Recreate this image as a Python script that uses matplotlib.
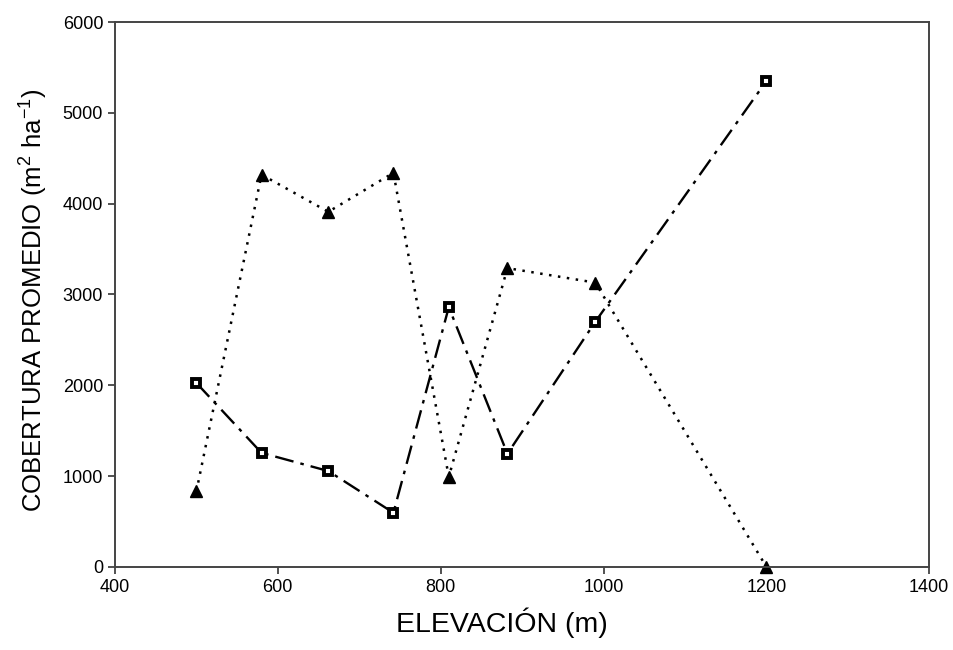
import matplotlib
matplotlib.use("Agg")
import matplotlib.pyplot as plt

# datos
elevacion = [500, 580, 662, 742, 810, 882, 990, 1200]
cobertura_triangulo = [830, 4320, 3910, 4340, 990, 3290, 3130, 0]
cobertura_cuadrado = [2025, 1255, 1055, 595, 2860, 1245, 2700, 5350]

plt.rcParams["font.family"] = ["Liberation Sans", "DejaVu Sans"]
plt.rcParams["mathtext.default"] = "regular"

fig = plt.figure(figsize=(9.54, 6.5), dpi=100)
ax = fig.add_axes([0.1205, 0.128, 0.8535, 0.838])

ax.plot(elevacion, cobertura_triangulo, color="black", linestyle=(0, (1, 2.6)),
        linewidth=1.8, marker="^", markersize=8, markerfacecolor="black",
        markeredgecolor="black", clip_on=False)
ax.plot(elevacion, cobertura_cuadrado, color="black", linestyle=(0, (8, 3, 1.5, 3)),
        linewidth=1.7, marker="s", markersize=5.5, markerfacecolor="white",
        markeredgecolor="black", markeredgewidth=2.8, clip_on=False)

ax.set_xlim(400, 1400)
ax.set_ylim(0, 6000)
ax.set_xticks([400, 600, 800, 1000, 1200, 1400])
ax.set_yticks([0, 1000, 2000, 3000, 4000, 5000, 6000])

ax.tick_params(direction="out", length=5, width=1.2, labelsize=13, color="#333333")
for s in ax.spines.values():
    s.set_linewidth(1.4)
    s.set_color("#444444")

ax.set_xlabel("ELEVACIÓN (m)", fontsize=20.5)
ax.xaxis.set_label_coords(0.475, -0.074)
ax.set_ylabel("COBERTURA PROMEDIO (m$^{2}$ ha$^{-1}$)", fontsize=18.5)
ax.yaxis.set_label_coords(-0.08, 0.49)

fig.savefig("out.png", dpi=100)
